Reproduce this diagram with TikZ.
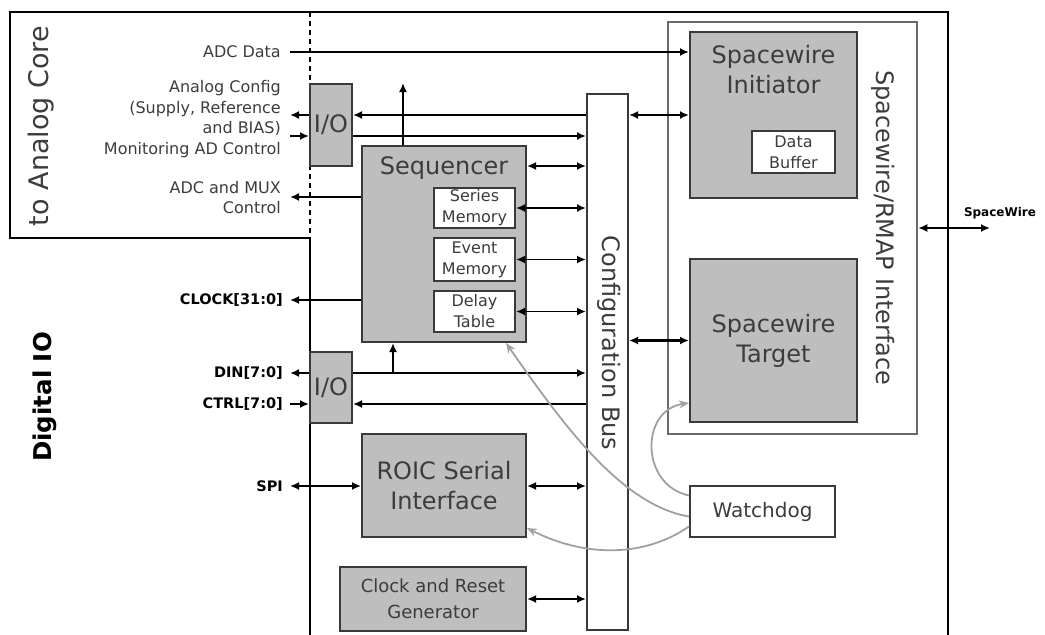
\documentclass[tikz,border=0pt]{standalone}
\usepackage{fontspec}
\setmainfont{DejaVu Sans}
\usetikzlibrary{arrows.meta,calc}
\definecolor{txt}{HTML}{3C3C3C}
\definecolor{boxfill}{HTML}{BEBEBE}
\definecolor{boxline}{HTML}{3A3A3A}
\definecolor{rmapline}{HTML}{6A6A6A}
\definecolor{wdline}{HTML}{A0A0A0}
\begin{document}
\begin{tikzpicture}[x=1pt,y=-1pt,
  gbox/.style={draw=boxline, line width=2pt, fill=boxfill, inner sep=0pt, text=txt, align=center},
  wbox/.style={draw=boxline, line width=2pt, fill=white, inner sep=0pt, text=txt, align=center},
  big/.style={font=\fontsize{24}{30}\selectfont},
  mid/.style={font=\fontsize{18}{26}\selectfont},
  small/.style={font=\fontsize{16}{21}\selectfont},
  sig/.style={font=\fontsize{14.5}{17}\selectfont\bfseries, text=black, inner sep=0pt, anchor=east},
  lbl/.style={font=\fontsize{16}{20.7}\selectfont, text=txt, inner sep=0pt, anchor=east, align=right},
  frame/.style={line width=2pt, black},
  wire/.style={line width=1.9pt, black},
  ar/.style={wire, -{Latex[length=9pt,width=8pt]}},
  dar/.style={wire, {Latex[length=9pt,width=8pt]}-{Latex[length=9pt,width=8pt]}},
  gar/.style={line width=1.8pt, wdline, -{Stealth[length=10pt,width=8pt]}}
]
\useasboundingbox (0,0) rectangle (1045,635);
% outer frame
\draw[frame] (310,238) -- (10,238) -- (10,12) -- (948,12) -- (948,635);
\draw[frame] (310,238) -- (310,635);
\draw[frame, dash pattern=on 5pt off 4pt] (310,12) -- (310,238);

% side titles
\node[rotate=90, font=\fontsize{27}{30}\selectfont, text=txt, inner sep=0pt] (tac) at (41,126) {to Analog Core};
\node[rotate=90, font=\fontsize{24.5}{30}\selectfont\bfseries, text=black, inner sep=0pt] (tdio) at (45,397) {Digital IO};

% boxes
\node[wbox, minimum width=41pt, minimum height=536pt] (bus) at (607.5,362) {};
\node[rotate=-90, big, text=txt, inner sep=0pt] (bustxt) at (609,343) {Configuration Bus};

\node[gbox, minimum width=42pt, minimum height=82pt, big] (io1) at (331,125) {I/O};
\node[gbox, minimum width=164pt, minimum height=196pt] (seq) at (444,244) {};
\node[big, text=txt, inner sep=0pt] (seqtxt) at (444,168) {Sequencer};
\node[wbox, minimum width=81pt, minimum height=40pt, small] (series) at (474.5,208) {Series\\Memory};
\node[wbox, minimum width=81pt, minimum height=43pt, small] (event) at (474.5,259.5) {Event\\Memory};
\node[wbox, minimum width=81pt, minimum height=41pt, small] (delay) at (474.5,311.5) {Delay\\Table};
\node[gbox, minimum width=42pt, minimum height=71pt, big] (io2) at (331,387.5) {I/O};
\node[gbox, minimum width=164pt, minimum height=103pt, big] (roic) at (444,485.5) {ROIC Serial\\Interface};
\node[gbox, minimum width=186pt, minimum height=64pt, mid] (clk) at (433,599) {Clock and Reset\\Generator};

\node[draw=rmapline, line width=2.5pt, fill=white, minimum width=249pt, minimum height=412pt, inner sep=0pt] (rmap) at (792.5,228) {};
\node[rotate=-90, big, text=txt, inner sep=0pt] (rmaptxt) at (883,228) {Spacewire/RMAP Interface};
\node[gbox, minimum width=167pt, minimum height=166pt] (init) at (773.5,115) {};
\node[big, text=txt, inner sep=0pt, align=center] (inittxt) at (773.5,70) {Spacewire\\Initiator};
\node[wbox, minimum width=83pt, minimum height=42pt, small] (buf) at (793.5,152) {Data\\Buffer};
\node[gbox, minimum width=167pt, minimum height=163pt, big] (target) at (773.5,340.5) {Spacewire\\Target};
\node[wbox, minimum width=145pt, minimum height=51pt, font=\fontsize{20}{24}\selectfont] (wd) at (762.5,511.5) {Watchdog};

% left labels
\node[lbl] (lADC) at (281,52) {ADC Data};
\node[lbl] (lAC) at (281,119) {Analog Config\\(Supply, Reference\\and BIAS)\\Monitoring AD Control};
\node[lbl] (lMUX) at (281,197.5) {ADC and MUX\\Control};
\node[sig] (lCLK) at (283,300) {CLOCK[31:0]};
\node[sig] (lDIN) at (283,373) {DIN[7:0]};
\node[sig] (lCTRL) at (283,404) {CTRL[7:0]};
\node[sig] (lSPI) at (283,486) {SPI};
\node[font=\fontsize{12}{14}\selectfont\bfseries, inner sep=0pt] (lSW) at (1000,213) {SpaceWire};

% free ends
\coordinate (pADC) at (290,52);
\coordinate (pAC1) at (290,115);
\coordinate (pAC2) at (290,136);
\coordinate (pMUX) at (290,197);
\coordinate (pCLK) at (290,300);
\coordinate (pDIN) at (290,373);
\coordinate (pCTRL) at (290,404);
\coordinate (pSPI) at (290,486);
\coordinate (pUP) at (403,83);
\coordinate (pUP2) at (393,373);
\coordinate (r166) at (0,166);
\coordinate (pSW) at (990,228);

% connectors
\draw[ar] (pADC) -- (pADC -| init.west);
\draw[ar] (bus.west |- pAC1) -- (io1.east |- pAC1);
\draw[dar] (bus.east |- pAC1) -- (init.west |- pAC1);
\draw[ar] (io1.west |- pAC1) -- (pAC1);
\draw[ar] (pAC2) -- (io1.west |- pAC2);
\draw[ar] (io1.east |- pAC2) -- (bus.west |- pAC2);
\draw[ar] (seq.north -| pUP) -- (pUP);
\draw[dar] (seq.east |- r166) -- (bus.west |- r166);
\draw[dar] (series.east) -- (bus.west |- series.east);
\draw[dar] (event.east) -- (bus.west |- event.east);
\draw[dar] (delay.east) -- (bus.west |- delay.east);
\draw[ar] (seq.west |- pMUX) -- (pMUX);
\draw[ar] (seq.west |- pCLK) -- (pCLK);
\draw[ar] (io2.west |- pDIN) -- (pDIN);
\draw[ar] (io2.east |- pDIN) -- (bus.west |- pDIN);
\draw[ar] (pUP2) -- (seq.south -| pUP2);
\draw[ar] (bus.west |- pCTRL) -- (io2.east |- pCTRL);
\draw[ar] (pCTRL) -- (io2.west |- pCTRL);
\draw[dar] (pSPI) -- (roic.west |- pSPI);
\draw[dar] (roic.east |- pSPI) -- (bus.west |- pSPI);
\draw[dar] (clk.east) -- (bus.west |- clk.east);
\draw[dar, line width=2.5pt] (bus.east |- target.west) -- (target.west);
\draw[dar] (rmap.east |- pSW) -- (pSW);

% watchdog curves
\draw[gar] ($(wd.west)+(0,-16)$) .. controls (640,485) and (640,410) .. ($(target.south west)+(0,-20)$);
\draw[gar] ($(wd.west)+(0,5)$) .. controls (620,505) and (560,420) .. ($(seq.south east)+(-21,0)$);
\draw[gar] ($(wd.west)+(0,15)$) .. controls (640,560) and (580,555) .. ($(roic.south east)+(0,-10)$);
\end{tikzpicture}
\end{document}
